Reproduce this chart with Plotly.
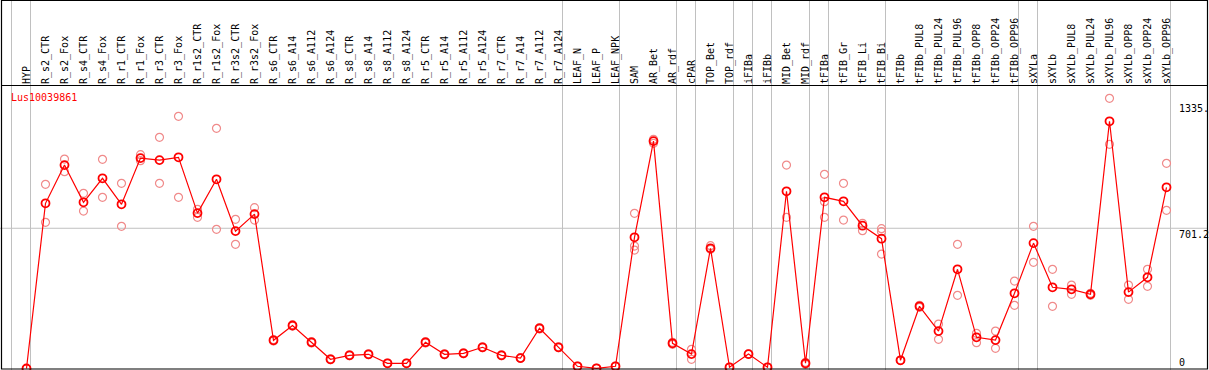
import plotly.graph_objects as go

W, H = 1209, 370

categories = ["HYP", "R_s2_CTR", "R_s2_Fox", "R_s4_CTR", "R_s4_Fox", "R_r1_CTR", "R_r1_Fox",
              "R_r3_CTR", "R_r3_Fox", "R_r1s2_CTR", "R_r1s2_Fox", "R_r3s2_CTR", "R_r3s2_Fox",
              "R_s6_CTR", "R_s6_A14", "R_s6_A112", "R_s6_A124", "R_s8_CTR", "R_s8_A14", "R_s8_A112",
              "R_s8_A124", "R_r5_CTR", "R_r5_A14", "R_r5_A112", "R_r5_A124", "R_r7_CTR", "R_r7_A14",
              "R_r7_A112", "R_r7_A124", "LEAF_N", "LEAF_P", "LEAF_NPK", "SAM", "AR_Bet", "AR_rdf",
              "cPAR", "TOP_Bet", "TOP_rdf", "iFIBa", "iFIBb", "MID_Bet", "MID_rdf", "tFIBa",
              "tFIB_Gr", "tFIB_Li", "tFIB_Bi", "tFIBb", "tFIBb_PUL8", "tFIBb_PUL24", "tFIBb_PUL96",
              "tFIBb_OPP8", "tFIBb_OPP24", "tFIBb_OPP96", "sXYLa", "sXYLb", "sXYLb_PUL8",
              "sXYLb_PUL24", "sXYLb_PUL96", "sXYLb_OPP8", "sXYLb_OPP24", "sXYLb_OPP96"]

means = [0, 826, 1017, 831, 951, 821, 1052, 1042, 1056, 777, 946, 687, 772, 141, 215, 131, 46,
         66, 71, 26, 26, 131, 71, 76, 106, 66, 52, 201, 106, 11, 1, 11, 656, 1137, 126, 72,
         601, 6, 72, 6, 886, 26, 856, 836, 714, 649, 41, 311, 187, 496, 156, 142, 376, 627,
         406, 396, 371, 1236, 382, 456, 906]

replicates = [[0, 0], [921, 731], [1047, 984], [876, 787], [1046, 856], [926, 711], [1069, 1039],
              [1156, 926], [1261, 856], [796, 756], [1201, 696], [746, 621], [804, 742],
              [144, 138], [218, 212], [134, 128], [48, 44], [68, 64], [73, 69], [27, 25], [27, 25],
              [134, 128], [73, 69], [78, 74], [108, 104], [68, 64], [54, 50], [204, 198],
              [108, 104], [12, 10], [1, 1], [12, 10], [776, 612, 592], [1146, 1126], [131, 121],
              [96, 46], [614, 596], [6, 6], [72, 72], [6, 6], [1017, 756], [31, 21],
              [971, 834, 756], [926, 742], [726, 689], [699, 684, 572], [41, 41], [316, 306],
              [222, 146], [621, 366], [176, 129], [187, 101], [437, 316], [711, 531], [496, 311],
              [417, 371], [376, 366], [1351, 1121], [417, 346], [496, 411], [1026, 791]]

group_ends = [-1, 0, 28, 31, 34, 35, 37, 38, 39, 41, 42, 45, 52, 53, 60]
gene = "Lus10039861"
ytick_vals = [1335, 701.2, 0]
ytick_text = ["1335.", "701.2", "0"]

FONT = "DejaVu Sans Mono"

rep_x, rep_y = [], []
for c, reps in zip(categories, replicates):
    for v in reps:
        rep_x.append(c)
        rep_y.append(v)

fig = go.Figure()
fig.add_trace(go.Scatter(x=rep_x, y=rep_y, mode="markers",
                         marker=dict(symbol="circle-open", size=8, color="#F08A8A",
                                     line=dict(width=1.2, color="#F08A8A")),
                         hoverinfo="skip", showlegend=False, cliponaxis=False))
fig.add_trace(go.Scatter(x=categories, y=means, mode="lines+markers",
                         line=dict(color="#FF0000", width=1.2),
                         marker=dict(symbol="circle-open", size=8, color="#FF0000",
                                     line=dict(width=1.8, color="#FF0000")),
                         showlegend=False, cliponaxis=False))

def px2paper_x(px):
    return px / W

def px2paper_y(py):
    return 1 - py / H

y_top_px, y_bot_px = 85, 369.5
scale = 0.2  # px per unit
y0_px = 368.5
ymin = (y0_px - y_bot_px) / scale
ymax = (y0_px - y_top_px) / scale

shapes = []
for e in group_ends:
    xv = e + 4.0 / 19
    shapes.append(dict(type="line", xref="x", yref="paper", x0=xv, x1=xv, y0=0, y1=1,
                       line=dict(color="#C0C0C0", width=1), layer="below"))
shapes.append(dict(type="line", xref="paper", yref="y", x0=0, x1=px2paper_x(1207),
                   y0=ytick_vals[1], y1=ytick_vals[1],
                   line=dict(color="#C0C0C0", width=1), layer="below"))
shapes.append(dict(type="rect", xref="paper", yref="paper",
                   x0=px2paper_x(1.5), x1=px2paper_x(1207.5),
                   y0=px2paper_y(369), y1=px2paper_y(0.5),
                   line=dict(color="black", width=1.2), fillcolor="rgba(0,0,0,0)"))
shapes.append(dict(type="line", xref="paper", yref="paper",
                   x0=px2paper_x(1.5), x1=px2paper_x(1207.5),
                   y0=px2paper_y(85.5), y1=px2paper_y(85.5),
                   line=dict(color="black", width=1.2)))

annotations = [dict(text=gene, xref="paper", yref="paper", x=px2paper_x(9), y=px2paper_y(97),
                    xanchor="left", yanchor="middle", showarrow=False,
                    font=dict(family=FONT, size=10, color="#FF0000"))]
anchors = ["top", "top", "bottom"]
shifts = [1, 1, -1]
for v, t, a, s in zip(ytick_vals, ytick_text, anchors, shifts):
    annotations.append(dict(text=t, xref="paper", yref="y", x=px2paper_x(1177), y=v,
                            xanchor="left", yanchor=a, yshift=s, showarrow=False,
                            font=dict(family=FONT, size=10, color="black")))

fig.update_layout(
    width=W, height=H, margin=dict(l=0, r=0, t=0, b=0, autoexpand=False),
    paper_bgcolor="white", plot_bgcolor="white",
    shapes=shapes, annotations=annotations,
    xaxis=dict(type="category", categoryorder="array", categoryarray=categories,
               range=[-26.5 / 19, (W - 26.5) / 19], side="top", tickangle=-90,
               tickfont=dict(family=FONT, size=10, color="black"), ticks="",
               showgrid=False, zeroline=False, showline=False, fixedrange=True,
               automargin=False),
    yaxis=dict(range=[ymin, ymax], domain=[px2paper_y(y_bot_px), px2paper_y(y_top_px)],
               showticklabels=False, showgrid=False, zeroline=False, showline=False,
               ticks="", automargin=False),
    font=dict(family=FONT, size=10),
)

fig.write_html("out.html", config={"displayModeBar": False},
               post_script="document.body.style.margin='0';document.body.style.overflow='hidden';")
